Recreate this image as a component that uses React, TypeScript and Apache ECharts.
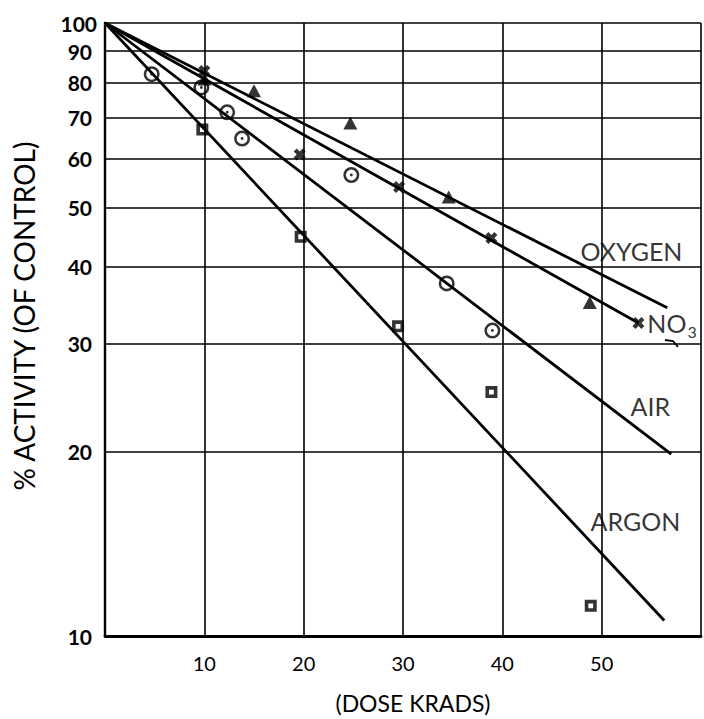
import React, { useEffect, useRef } from "react";
import * as echarts from "echarts";

const FONT = "Lato, 'Open Sans', 'DejaVu Sans', sans-serif";

// Axis ticks
const yGridValues = [10, 20, 30, 40, 50, 60, 70, 80, 90, 100];
const xLabelValues = [10, 20, 30, 40, 50];

// Measured points: dose (krads) vs % activity
const oxygenDose = [10, 15, 24.7, 34.6, 48.8];
const oxygenActivity = [81, 77.5, 68.7, 52, 35];

const no3Dose = [10, 19.6, 29.6, 38.9, 53.7];
const no3Activity = [83.5, 61, 54, 44.6, 32.4];

const airDose = [4.7, 9.7, 12.3, 13.8, 24.8, 34.4, 39.0];
const airActivity = [82.5, 78.5, 71.5, 64.8, 56.5, 37.6, 31.5];

const argonDose = [9.8, 19.7, 29.5, 38.9, 48.9];
const argonActivity = [67, 44.8, 32, 25, 11.2];

// Fitted straight lines (start and end)
const oxygenFitDose = [0, 56.6];
const oxygenFitActivity = [100, 34.3];
const no3FitDose = [0, 53.7];
const no3FitActivity = [100, 32.4];
const airFitDose = [0, 57];
const airFitActivity = [100, 19.8];
const argonFitDose = [0, 56.3];
const argonFitActivity = [100, 10.6];

// Curve labels
const curveNames = ["OXYGEN", "NO3", "AIR", "ARGON"];
const curveLabelDose = [53.0, 54.6, 54.9, 53.4];
const curveLabelActivity = [42.4, 32.35, 23.7, 15.4];

const zip = (xs: number[], ys: number[]) => xs.map((x, i) => [x, ys[i]]);

const CROSS = "path://M0,2.5L2.5,0L5,2.5L7.5,0L10,2.5L7.5,5L10,7.5L7.5,10L5,7.5L2.5,10L0,7.5L2.5,5Z";
const RING_DOT =
  "path://M0,10A10,10 0 1,1 20,10A10,10 0 1,1 0,10Z" +
  "M3.2,10A6.8,6.8 0 1,0 16.8,10A6.8,6.8 0 1,0 3.2,10Z" +
  "M8.2,10A1.8,1.8 0 1,1 11.8,10A1.8,1.8 0 1,1 8.2,10Z";
const SQUARE_RING = "path://M0,0H10V10H0Z M3,3V7H7V3Z";

export default function App() {
  const ref = useRef<HTMLDivElement>(null);

  useEffect(() => {
    const chart = echarts.init(ref.current!, null, { renderer: "svg" });

    const fitLine = (xs: number[], ys: number[]) => ({
      type: "line",
      data: zip(xs, ys),
      symbol: "none",
      silent: true,
      lineStyle: { color: "#000", width: 2.8 },
      z: 3,
    });

    const option: any = {
      animation: false,
      backgroundColor: "#fff",
      grid: { left: 105, right: -3, top: 23, bottom: 79 },
      xAxis: {
        type: "value",
        min: 0,
        max: 60,
        interval: 10,
        axisLine: { show: true, lineStyle: { color: "#000", width: 2.8 } },
        axisTick: { show: false },
        axisLabel: {
          margin: 17,
          fontSize: 20,
          fontFamily: FONT,
          color: "#000",
          formatter: (v: number) => (xLabelValues.includes(v) ? String(v) : ""),
        },
        splitLine: { show: true, lineStyle: { color: "#000", width: 1.6 } },
        name: "(DOSE KRADS)",
        nameLocation: "middle",
        nameGap: 55,
        nameTextStyle: {
          fontSize: 23,
          fontFamily: FONT,
          color: "#000",
          padding: [0, 0, 0, 20],
        },
      },
      yAxis: {
        type: "log",
        logBase: 10,
        min: 10,
        max: 100,
        axisLine: { show: true, lineStyle: { color: "#000", width: 2.4 } },
        axisTick: { show: false },
        axisLabel: { show: false },
        splitLine: { show: false },
      },
      graphic: [
        {
          type: "text",
          x: 24,
          y: 316,
          rotation: Math.PI / 2,
          style: {
            text: "% ACTIVITY (OF CONTROL)",
            fontSize: 28,
            fontFamily: FONT,
            fill: "#000",
            align: "center",
            verticalAlign: "middle",
          },
        },
        {
          type: "polyline",
          shape: { points: [[665, 340], [673, 341], [678, 347]] },
          style: { stroke: "#000", lineWidth: 1.8, fill: "none" },
        },
      ],
      series: [
        {
          type: "line",
          data: [],
          silent: true,
          markLine: {
            silent: true,
            symbol: ["none", "none"],
            lineStyle: { color: "#000", width: 1.6, type: "solid" },
            label: {
              show: true,
              position: "start",
              distance: 13,
              formatter: "{c}",
              fontSize: 21,
              fontWeight: "bold",
              fontFamily: FONT,
              color: "#000",
            },
            data: yGridValues.map((v) =>
              v === 100 ? { yAxis: v, label: { distance: 8 } } : { yAxis: v }
            ),
          },
        },
        fitLine(oxygenFitDose, oxygenFitActivity),
        fitLine(no3FitDose, no3FitActivity),
        fitLine(airFitDose, airFitActivity),
        fitLine(argonFitDose, argonFitActivity),
        {
          type: "scatter",
          name: "OXYGEN",
          data: zip(oxygenDose, oxygenActivity),
          symbol: "triangle",
          symbolSize: [14, 13],
          itemStyle: { color: "#000" },
          z: 4,
        },
        {
          type: "scatter",
          name: "NO3",
          data: zip(no3Dose, no3Activity),
          symbol: CROSS,
          symbolSize: 12,
          itemStyle: { color: "#000" },
          z: 4,
        },
        {
          type: "scatter",
          name: "AIR",
          data: zip(airDose, airActivity),
          symbol: RING_DOT,
          symbolSize: 16,
          itemStyle: { color: "#000" },
          z: 4,
        },
        {
          type: "scatter",
          name: "ARGON",
          data: zip(argonDose, argonActivity),
          symbol: SQUARE_RING,
          symbolSize: 12,
          itemStyle: { color: "#000" },
          z: 4,
        },
        {
          type: "scatter",
          silent: true,
          symbolSize: 0,
          z: 5,
          data: curveNames.map((n, i) => ({
            name: n,
            value: [curveLabelDose[i], curveLabelActivity[i]],
            label:
              n === "NO3"
                ? { align: "left", formatter: "{m|NO}{s|3}" }
                : { align: "center", formatter: "{b}" },
          })),
          label: {
            show: true,
            position: "inside",
            fontSize: 25,
            fontFamily: FONT,
            color: "#000",
            rich: {
              m: { fontSize: 25, lineHeight: 25, verticalAlign: "top", fontFamily: FONT, color: "#000" },
              s: {
                fontSize: 16,
                lineHeight: 16,
                padding: [13, 0, 0, 1],
                verticalAlign: "top",
                fontFamily: FONT,
                color: "#000",
              },
            },
          },
        },
      ],
    };

    chart.setOption(option);
    return () => chart.dispose();
  }, []);

  return (
    <div
      ref={ref}
      style={{ position: "fixed", left: 0, top: 0, width: 704, height: 719, background: "#fff" }}
    />
  );
}
